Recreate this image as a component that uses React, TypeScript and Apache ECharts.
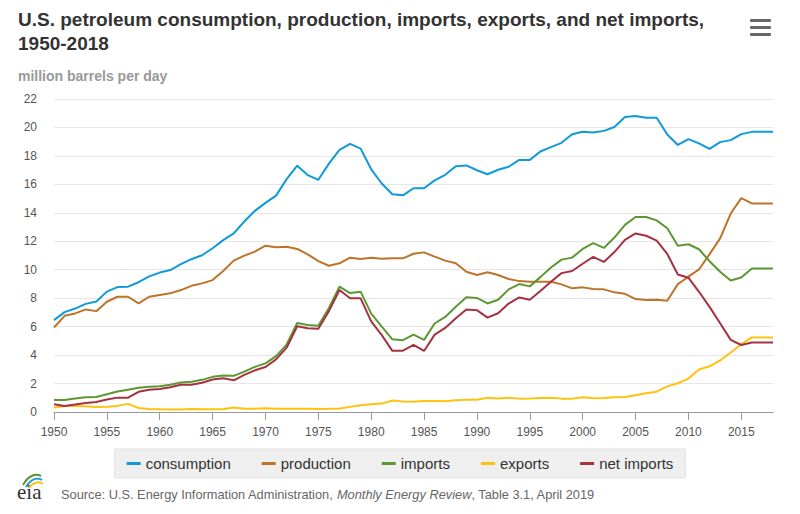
import React, { useEffect, useRef } from "react";
import * as echarts from "echarts";

const years: string[] = Array.from({ length: 69 }, (_, i) => String(1950 + i));

const consumption = [
  6.46, 7.02, 7.27, 7.6, 7.76, 8.46, 8.78, 8.81, 9.12, 9.53,
  9.8, 9.98, 10.4, 10.74, 11.02, 11.51, 12.08, 12.56, 13.39, 14.14,
  14.7, 15.21, 16.37, 17.31, 16.65, 16.32, 17.46, 18.43, 18.85, 18.51,
  17.06, 16.06, 15.3, 15.23, 15.73, 15.73, 16.28, 16.67, 17.28, 17.33,
  16.99, 16.71, 17.03, 17.24, 17.72, 17.72, 18.31, 18.62, 18.92, 19.52,
  19.7, 19.65, 19.76, 20.03, 20.73, 20.8, 20.69, 20.68, 19.5, 18.77,
  19.18, 18.88, 18.49, 18.97, 19.11, 19.53, 19.69, 19.69, 19.69,
];

const production = [
  5.94, 6.76, 6.93, 7.21, 7.09, 7.75, 8.1, 8.1, 7.63, 8.1,
  8.22, 8.34, 8.57, 8.87, 9.04, 9.27, 9.91, 10.64, 10.99, 11.27,
  11.69, 11.58, 11.62, 11.46, 11.08, 10.61, 10.28, 10.45, 10.85, 10.75,
  10.85, 10.78, 10.8, 10.8, 11.12, 11.22, 10.92, 10.64, 10.45, 9.86,
  9.63, 9.82, 9.63, 9.35, 9.2, 9.15, 9.15, 9.15, 8.97, 8.69,
  8.76, 8.64, 8.62, 8.41, 8.31, 7.94, 7.87, 7.89, 7.82, 8.99,
  9.51, 10.02, 11.1, 12.2, 13.95, 15.03, 14.66, 14.66, 14.66,
];

const imports = [
  0.85, 0.84, 0.95, 1.03, 1.05, 1.25, 1.44, 1.57, 1.7, 1.78,
  1.81, 1.92, 2.08, 2.12, 2.26, 2.47, 2.57, 2.54, 2.84, 3.17,
  3.42, 3.93, 4.74, 6.26, 6.11, 6.06, 7.31, 8.81, 8.36, 8.46,
  6.91, 6.0, 5.11, 5.05, 5.44, 5.07, 6.22, 6.68, 7.4, 8.06,
  8.02, 7.63, 7.89, 8.62, 8.99, 8.83, 9.48, 10.16, 10.71, 10.85,
  11.46, 11.87, 11.53, 12.26, 13.15, 13.71, 13.71, 13.47, 12.91, 11.69,
  11.79, 11.44, 10.6, 9.86, 9.24, 9.45, 10.08, 10.08, 10.08,
];

const exportsData = [
  0.31, 0.42, 0.43, 0.4, 0.36, 0.37, 0.43, 0.57, 0.28, 0.21,
  0.2, 0.17, 0.17, 0.21, 0.2, 0.19, 0.2, 0.31, 0.23, 0.23,
  0.26, 0.22, 0.22, 0.23, 0.22, 0.21, 0.22, 0.24, 0.36, 0.47,
  0.54, 0.59, 0.81, 0.74, 0.72, 0.78, 0.78, 0.76, 0.82, 0.86,
  0.86, 1.0, 0.95, 1.0, 0.94, 0.95, 0.98, 1.0, 0.94, 0.94,
  1.04, 0.97, 0.98, 1.03, 1.05, 1.17, 1.32, 1.43, 1.8, 2.02,
  2.35, 2.99, 3.21, 3.62, 4.18, 4.76, 5.24, 5.24, 5.24,
];

const netImports = [
  0.55, 0.42, 0.52, 0.63, 0.7, 0.88, 1.01, 1.01, 1.42, 1.57,
  1.61, 1.74, 1.91, 1.91, 2.06, 2.28, 2.37, 2.23, 2.61, 2.93,
  3.16, 3.7, 4.52, 6.03, 5.89, 5.85, 7.09, 8.57, 8.0, 7.99,
  6.37, 5.4, 4.3, 4.31, 4.72, 4.29, 5.44, 5.91, 6.59, 7.2,
  7.16, 6.63, 6.94, 7.62, 8.05, 7.89, 8.5, 9.16, 9.76, 9.91,
  10.42, 10.9, 10.55, 11.24, 12.1, 12.55, 12.39, 12.04, 11.11, 9.67,
  9.44, 8.45, 7.39, 6.24, 5.07, 4.71, 4.88, 4.88, 4.88,
];

const seriesNames = ["consumption", "production", "imports", "exports", "net imports"];
const seriesColors = ["#0f9ad8", "#bd732a", "#5d9732", "#ffc20e", "#a33340"];
const seriesData = [consumption, production, imports, exportsData, netImports];

const FONT = "'Liberation Sans', Arial, sans-serif";

export default function App() {
  const ref = useRef<HTMLDivElement>(null);
  useEffect(() => {
    document.body.style.margin = "0";
    const chart = echarts.init(ref.current as HTMLDivElement, undefined, { renderer: "svg" });
    chart.setOption({
      animation: false,
      backgroundColor: "#ffffff",
      textStyle: { fontFamily: FONT },
      title: {
        text: "U.S. petroleum consumption, production, imports, exports, and net imports,\n1950-2018",
        left: 18,
        top: 7,
        padding: 0,
        textStyle: { fontSize: 19, fontWeight: "bold", color: "#333333", lineHeight: 24, fontFamily: FONT },
      },
      legend: {
        data: seriesNames,
        left: "center",
        top: 449,
        icon: "rect",
        itemWidth: 14,
        itemHeight: 3,
        itemGap: 31,
        padding: [7, 12],
        backgroundColor: "#efefef",
        borderColor: "#e2e2e2",
        borderWidth: 1,
        textStyle: { fontSize: 15, color: "#333333", fontFamily: FONT },
      },
      grid: { left: 54, right: 27, top: 99, bottom: 102 },
      xAxis: {
        type: "category",
        data: years,
        boundaryGap: false,
        axisLine: { lineStyle: { color: "#999999", width: 1 } },
        axisTick: { interval: 4, length: 8, lineStyle: { color: "#999999" } },
        axisLabel: { interval: 4, fontSize: 12, color: "#555555", margin: 14, fontFamily: FONT },
        splitLine: { show: false },
      },
      yAxis: {
        type: "value",
        min: 0,
        max: 22,
        interval: 2,
        axisLine: { show: false },
        axisTick: { show: false },
        axisLabel: { fontSize: 12, color: "#555555", margin: 17, fontFamily: FONT },
        splitLine: { lineStyle: { color: "#e6e6e6", width: 1 } },
      },
      series: seriesNames.map((name, i) => ({
        name,
        type: "line",
        data: seriesData[i],
        showSymbol: false,
        symbol: "none",
        lineStyle: { width: 2, color: seriesColors[i] },
        itemStyle: { color: seriesColors[i] },
      })),
      graphic: [
        {
          type: "text",
          left: 18,
          top: 69,
          style: { text: "million barrels per day", fontSize: 14, fontWeight: "bold", fill: "#999999", fontFamily: FONT },
        },
        { type: "rect", shape: { x: 750, y: 19, width: 21, height: 3, r: 1 }, style: { fill: "#666666" } },
        { type: "rect", shape: { x: 750, y: 26, width: 21, height: 3, r: 1 }, style: { fill: "#666666" } },
        { type: "rect", shape: { x: 750, y: 33, width: 21, height: 3, r: 1 }, style: { fill: "#666666" } },
        {
          type: "text",
          x: 17,
          y: 502,
          style: { text: "eia", fontSize: 21, fill: "#333333", fontFamily: "'Liberation Serif', serif", verticalAlign: "bottom" },
        },
        { type: "bezierCurve", shape: { x1: 23, y1: 485, x2: 41, y2: 476, cpx1: 28, cpy1: 476, cpx2: 35, cpy2: 473 }, style: { stroke: "#5d9732", lineWidth: 2, fill: "none" } },
        { type: "bezierCurve", shape: { x1: 26, y1: 487, x2: 42, y2: 480, cpx1: 31, cpy1: 479, cpx2: 37, cpy2: 477 }, style: { stroke: "#0f9ad8", lineWidth: 2, fill: "none" } },
        { type: "bezierCurve", shape: { x1: 29, y1: 488, x2: 43, y2: 484, cpx1: 33, cpy1: 482, cpx2: 39, cpy2: 481 }, style: { stroke: "#ffc20e", lineWidth: 2, fill: "none" } },
        {
          type: "text",
          x: 61,
          y: 494,
          style: {
            text: "{a|Source: U.S. Energy Information Administration, }{b|Monthly Energy Review}{a|, Table 3.1, April 2019}",
            verticalAlign: "middle",
            rich: {
              a: { fontSize: 12.8, fill: "#666666", fontFamily: FONT },
              b: { fontSize: 12.8, fill: "#666666", fontStyle: "italic", fontFamily: FONT },
            },
          },
        },
      ],
    });
    return () => chart.dispose();
  }, []);
  return <div ref={ref} style={{ width: 800, height: 514 }} />;
}
